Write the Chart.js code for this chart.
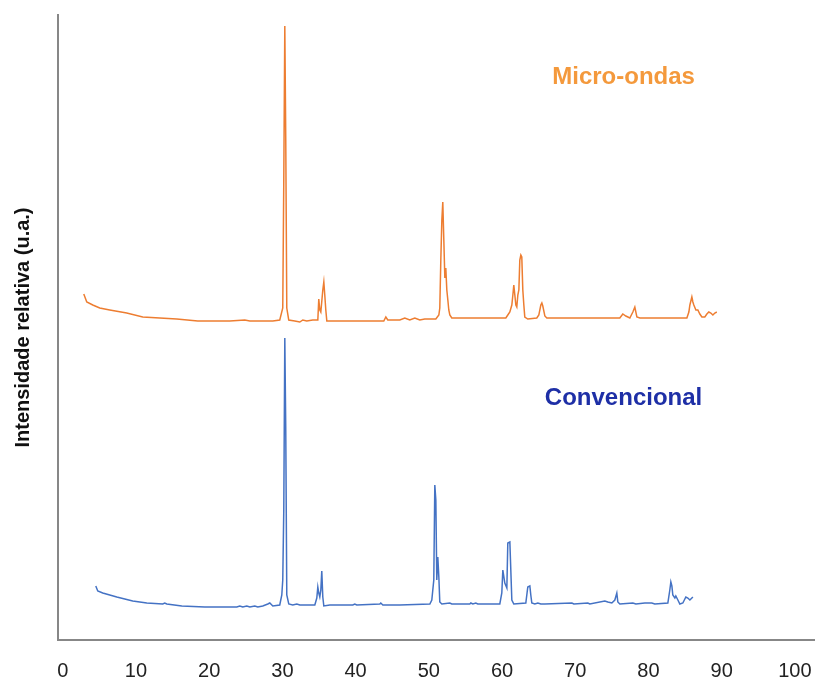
<!DOCTYPE html>
<html>
<head>
<meta charset="utf-8">
<script src="https://cdn.jsdelivr.net/npm/chart.js@4/dist/chart.umd.min.js"></script>
<style>
  html, body { margin: 0; padding: 0; background: #ffffff; }
  #wrap { width: 815px; height: 682px; }
</style>
</head>
<body>
<div id="wrap"><canvas id="c" width="815" height="682"></canvas></div>
<script>
// ---- Data (2θ in degrees, intensity in arbitrary units) ----
const seriesNames = ["Micro-ondas", "Convencional"];
const xTickValues = [0, 10, 20, 30, 40, 50, 60, 70, 80, 90, 100];
const yAxisTitle = "Intensidade relativa (u.a.)";

const thetaMicro = [2.87,3.28,4.10,5.05,6.42,8.74,10.93,13.25,15.57,18.44,22.81,24.86,25.55,28.69,29.64,30.05,30.19,30.33,30.46,30.60,30.87,31.69,32.38,32.79,33.33,34.15,34.84,34.97,35.11,35.25,35.52,35.66,35.79,35.93,36.07,37.84,40.57,43.85,44.13,44.40,46.04,46.72,47.40,48.09,48.77,49.45,50.96,51.37,51.50,51.64,51.78,51.91,52.05,52.19,52.32,52.46,52.60,52.73,52.87,53.14,55.60,58.33,60.52,60.79,61.07,61.34,61.48,61.61,61.75,61.89,62.02,62.16,62.30,62.43,62.57,62.70,62.84,62.98,63.11,63.52,64.75,65.03,65.30,65.44,65.57,65.85,66.12,67.90,70.63,73.36,76.09,76.50,76.91,77.46,77.87,78.14,78.42,78.83,81.56,85.25,85.52,85.66,85.93,86.07,86.20,86.48,86.75,87.02,87.30,87.70,87.98,88.25,88.52,88.80,89.07,89.34];
const intensMicro = [346,338,335,332,330,327,323,322,321,319,319,320,319,319,320,332,460,614,500,332,320,319,318,320,319,320,320,341,330,328,350,358,345,330,319,319,319,319,323,320,320,322,320,322,320,321,321,325,332,380,420,438,400,362,372,350,340,330,325,322,322,322,322,325,328,335,345,355,345,335,333,345,350,380,385,383,350,335,323,321,322,325,335,337,334,324,322,322,322,322,322,326,324,322,328,333,323,322,322,322,328,335,343,338,335,330,330,326,323,323,326,328,327,325,327,328];

const thetaConv = [4.51,4.78,5.46,6.42,7.38,8.47,9.56,11.48,13.66,13.93,14.21,16.26,19.40,23.77,24.18,24.59,25.14,25.55,26.23,26.64,27.32,28.01,28.28,28.69,29.64,29.92,30.05,30.19,30.33,30.46,30.60,30.87,31.42,31.97,32.38,34.43,34.70,34.84,34.97,35.11,35.25,35.38,35.52,35.66,36.48,39.62,39.89,40.16,43.31,43.44,43.72,46.04,50.14,50.41,50.68,50.82,50.96,51.09,51.23,51.37,51.50,51.78,52.87,53.14,55.60,55.74,56.01,56.42,56.69,59.70,59.97,60.11,60.38,60.66,60.79,61.07,61.20,61.34,61.61,63.25,63.52,63.80,63.93,64.07,64.48,64.89,65.30,65.85,69.54,69.81,71.72,71.99,74.04,74.45,75.00,75.41,75.68,75.82,76.09,77.87,78.28,79.51,80.46,80.87,82.65,82.92,83.06,83.20,83.33,83.61,83.74,84.02,84.29,84.70,85.11,85.38,85.66,86.07];
const intensConv = [54,49,47,45,43,41,39,37,36,37,36,34,33,33,34,33,34,33,34,33,34,36,37,34,35,45,60,130,302,210,45,36,35,36,35,35,42,53,47,43,50,69,43,34,35,35,36,35,36,37,35,35,36,40,60,155,140,60,83,63,38,36,37,36,36,37,36,37,36,36,47,70,57,52,97,98,70,40,36,37,53,54,45,37,36,37,36,36,37,36,37,36,39,38,37,40,47,38,36,37,36,37,37,36,37,50,58,54,45,42,44,40,36,37,43,42,40,43];

function toPoints(xs, ys) { return xs.map((x, i) => ({ x: x, y: ys[i] })); }

const AXIS_COLOR = "#878787";
const FONT = "'Liberation Sans', Arial, Helvetica, sans-serif";

const seriesLabelsPlugin = {
  id: "seriesLabels",
  afterDatasetsDraw(chart) {
    const { ctx, scales } = chart;
    const items = [
      { text: seriesNames[0], x: 76.6, y: 563, color: "#F4993C" },
      { text: seriesNames[1], x: 76.6, y: 242, color: "#1E2FA6" }
    ];
    ctx.save();
    ctx.font = "bold 24px " + FONT;
    ctx.textAlign = "center";
    ctx.textBaseline = "middle";
    items.forEach(it => {
      ctx.fillStyle = it.color;
      ctx.fillText(it.text, scales.x.getPixelForValue(it.x), scales.y.getPixelForValue(it.y));
    });
    ctx.restore();
  }
};

new Chart(document.getElementById("c"), {
  type: "line",
  data: {
    datasets: [
      {
        label: seriesNames[0],
        data: toPoints(thetaMicro, intensMicro),
        borderColor: "#ED7D31",
        borderWidth: 1.5,
        pointRadius: 0,
        tension: 0,
        fill: false
      },
      {
        label: seriesNames[1],
        data: toPoints(thetaConv, intensConv),
        borderColor: "#4472C4",
        borderWidth: 1.5,
        pointRadius: 0,
        tension: 0,
        fill: false
      }
    ]
  },
  options: {
    responsive: false,
    animation: false,
    events: [],
    layout: { padding: { top: 15, left: 0, right: 0, bottom: 0 } },
    plugins: { legend: { display: false }, tooltip: { enabled: false } },
    scales: {
      x: {
        type: "linear",
        min: -0.65,
        max: 102.75,
        afterBuildTicks(scale) { scale.ticks = xTickValues.map(v => ({ value: v })); },
        afterFit(scale) { scale.height = 42; scale.paddingLeft = 0; scale.paddingRight = 0; },
        grid: { display: false, drawTicks: false },
        border: { display: true, color: AXIS_COLOR, width: 2 },
        ticks: {
          autoSkip: false,
          maxRotation: 0,
          padding: 19,
          color: "#222222",
          font: { family: FONT, size: 20 }
        }
      },
      y: {
        type: "linear",
        min: 0,
        max: 625,
        afterFit(scale) { scale.width = 58; },
        grid: { display: false, drawTicks: false },
        border: { display: true, color: AXIS_COLOR, width: 2 },
        ticks: { display: false },
        title: {
          display: true,
          text: yAxisTitle,
          color: "#111111",
          font: { family: FONT, size: 20, weight: "bold" },
          padding: { top: 11, bottom: 0 }
        }
      }
    }
  },
  plugins: [seriesLabelsPlugin]
});
</script>
</body>
</html>
